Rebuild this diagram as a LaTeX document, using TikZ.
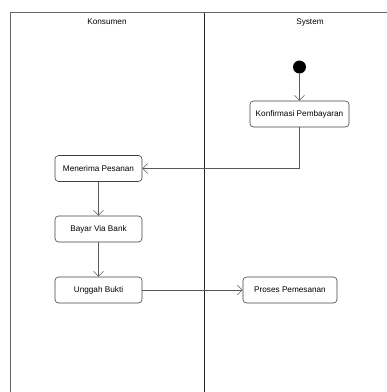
\documentclass[tikz,border=0pt]{standalone}
\usepackage{fontspec}
\setmainfont{Liberation Sans}
\usetikzlibrary{arrows.meta}
\begin{document}
\begin{tikzpicture}[x=1pt,y=-1pt]
\tikzstyle{action}=[draw=black!75,line width=0.6pt,rounded corners=3.5pt,minimum height=26pt,inner sep=1pt,font=\fontsize{8.2}{9}\selectfont]
\tikzstyle{lane}=[font=\fontsize{8.2}{9}\selectfont]
\tikzstyle{flow}=[draw=black!65,line width=0.6pt,-{Straight Barb[length=5pt,width=10pt]}]
\useasboundingbox (0,0) rectangle (387,392);
% swimlanes
\draw[black!60,line width=1pt] (10.5,392) -- (10.5,12.5) -- (387,12.5);
\draw[black!85,line width=1.5pt] (204.5,12.5) -- (204.5,392);
\node[lane] (konsumen) at (107,22) {Konsumen};
\node[lane] (system) at (310,22) {System};
% start
\node[circle,fill=black,minimum size=13pt,inner sep=0pt] (start) at (299.5,67) {};
% actions
\foreach \name/\point/\boxw/\txt in {
	konfirmasi/{299.5,114}/99/Konfirmasi Pembayaran,
	menerima/{98.5,168.5}/87/Menerima Pesanan,
	bayar/{98.5,229}/87/Bayar Via Bank,
	unggah/{98.5,290}/87/Unggah Bukti,
	proses/{290,290}/94/Proses Pemesanan}
	\node[action,minimum width=\boxw pt] (\name) at (\point) {\txt};
\draw[flow] (start) -- (konfirmasi);
\draw[flow] (konfirmasi) |- (menerima);
\draw[flow] (menerima) -- (bayar);
\draw[flow] (bayar) -- (unggah);
\draw[flow] (unggah) -- (proses);
\end{tikzpicture}
\end{document}
